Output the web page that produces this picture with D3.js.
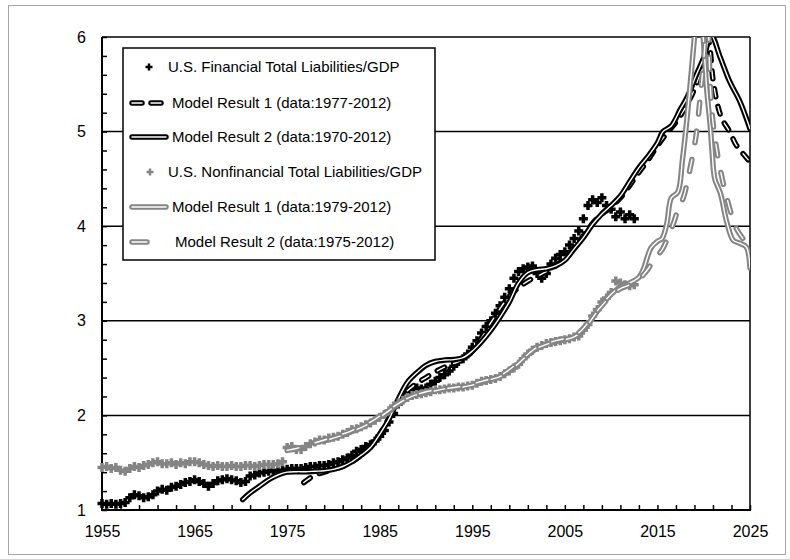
<!DOCTYPE html>
<html><head><meta charset="utf-8">
<script src="https://cdn.jsdelivr.net/npm/d3@7"></script>
<style>
body{margin:0;background:#fff}
svg{display:block}
text{font-family:"Liberation Sans",Arial,sans-serif;fill:#000}
</style>
</head><body><svg id="c" width="790" height="559"></svg>
<script>
// ---------- DATA ----------
const dataYears = d3.range(1955, 2012.75, 0.5); // half-year observations 1955.0 .. 2012.5
const financialRatio = [
1.07,1.06,1.07,1.06,1.07,1.08,1.13,1.16,1.15,1.13,
1.14,1.16,1.20,1.22,1.21,1.24,1.25,1.27,1.29,1.30,
1.32,1.30,1.28,1.25,1.28,1.31,1.32,1.33,1.32,1.31,
1.29,1.30,1.36,1.37,1.39,1.40,1.41,1.42,1.41,1.42,
1.43,1.44,1.44,1.44,1.45,1.46,1.46,1.47,1.47,1.48,
1.50,1.51,1.53,1.55,1.58,1.62,1.64,1.67,1.69,1.73,
1.78,1.84,1.93,2.02,2.12,2.18,2.24,2.27,2.29,2.28,
2.29,2.33,2.36,2.40,2.43,2.47,2.52,2.57,2.60,2.65,
2.72,2.79,2.87,2.94,3.00,3.08,3.16,3.25,3.34,3.45,
3.52,3.55,3.57,3.58,3.50,3.45,3.50,3.60,3.66,3.70,
3.73,3.80,3.87,3.95,4.08,4.22,4.28,4.25,4.30,4.22,
4.18,4.10,4.15,4.08,4.12,4.08];
const nonfinancialRatio = [
1.45,1.46,1.44,1.45,1.42,1.41,1.44,1.46,1.45,1.47,
1.48,1.50,1.51,1.49,1.49,1.50,1.48,1.50,1.49,1.51,
1.51,1.50,1.48,1.47,1.46,1.47,1.46,1.46,1.47,1.46,
1.46,1.47,1.47,1.46,1.47,1.48,1.48,1.48,1.49,1.51,
1.66,1.67,1.64,1.64,1.67,1.70,1.72,1.74,1.74,1.76,
1.77,1.78,1.80,1.82,1.85,1.86,1.88,1.90,1.92,1.95,
1.98,2.01,2.05,2.10,2.13,2.16,2.19,2.21,2.22,2.23,
2.24,2.25,2.27,2.27,2.28,2.29,2.29,2.30,2.30,2.31,
2.32,2.34,2.36,2.37,2.38,2.39,2.41,2.44,2.47,2.50,
2.54,2.60,2.65,2.69,2.72,2.74,2.76,2.77,2.78,2.79,
2.80,2.81,2.83,2.84,2.90,2.96,3.05,3.12,3.20,3.24,
3.30,3.42,3.40,3.38,3.37,3.38];

// model results: [year, value]
const finModel1 = [[1976.8,1.29],[1977.5,1.34],[1978,1.37],[1979,1.40],[1980,1.43],[1981,1.46],[1982,1.51],[1983,1.58],[1984,1.68],[1985,1.80],[1986,1.97],[1987,2.15],[1988,2.26],[1989,2.34],[1990,2.40],[1991,2.46],[1992,2.51],[1993,2.55],[1994,2.59],[1995,2.68],[1996,2.82],[1997,2.98],[1998,3.13],[1999,3.26],[2000,3.35],[2001,3.42],[2002,3.47],[2003,3.52],[2004,3.58],[2005,3.66],[2006,3.77],[2007,3.90],[2008,4.03],[2009,4.13],[2010,4.20],[2011,4.30],[2012,4.43],[2013,4.57],[2014,4.70],[2015,4.85],[2016,4.98],[2017,5.10],[2018,5.25],[2019,5.45],[2019.8,5.68],[2020.5,5.95],[2021,5.55],[2021.5,5.28],[2022,5.13],[2022.8,5.00],[2023.5,4.86],[2024.3,4.76],[2025,4.68]];
const finModel2 = [[1970.2,1.11],[1971,1.18],[1972,1.25],[1973,1.32],[1974,1.37],[1975,1.40],[1976,1.405],[1977,1.405],[1978,1.41],[1979,1.415],[1980,1.43],[1981,1.46],[1982,1.51],[1983,1.58],[1984,1.66],[1985,1.80],[1986,1.96],[1987,2.17],[1988,2.35],[1989,2.45],[1990,2.53],[1991,2.57],[1992,2.585],[1993,2.59],[1994,2.61],[1995,2.68],[1996,2.78],[1997,2.90],[1998,3.04],[1999,3.20],[2000,3.40],[2001,3.51],[2002,3.54],[2003,3.55],[2004,3.58],[2005,3.64],[2006,3.76],[2007,3.88],[2008,4.02],[2009,4.13],[2010,4.22],[2011,4.32],[2012,4.47],[2013,4.62],[2014,4.74],[2015,4.88],[2015.6,5.00],[2016.5,5.06],[2017.5,5.24],[2018.2,5.36],[2019.2,5.60],[2020,5.78],[2020.8,6.02],[2021.8,5.78],[2022.8,5.53],[2023.9,5.32],[2025,5.03]];
const nonfinModel1 = [[1979,1.73],[1980,1.76],[1981,1.79],[1982,1.83],[1983,1.87],[1984,1.92],[1985,1.98],[1986,2.05],[1987,2.12],[1988,2.18],[1989,2.22],[1990,2.24],[1991,2.26],[1992,2.28],[1993,2.29],[1994,2.30],[1995,2.32],[1996,2.35],[1997,2.38],[1998,2.41],[1999,2.47],[2000,2.55],[2001,2.64],[2002,2.71],[2003,2.75],[2004,2.78],[2005,2.80],[2006,2.83],[2007,2.90],[2008,3.03],[2009,3.17],[2010,3.28],[2011,3.36],[2012,3.40],[2013,3.46],[2013.5,3.55],[2014.3,3.77],[2015,3.84],[2015.5,3.87],[2016,4.02],[2016.5,4.30],[2017.2,4.36],[2017.7,4.70],[2018.1,5.05],[2018.5,5.45],[2019,6.0],[2019.5,6.5],[2019.95,6.0],[2020.1,5.78],[2020.35,5.42],[2020.7,5.07],[2020.9,4.80],[2021.2,4.50],[2021.8,4.35],[2022.5,4.04],[2023.2,3.85],[2023.9,3.82],[2024.6,3.78],[2025,3.56]];
const nonfinModel2 = [[1975,1.63],[1976,1.65],[1977,1.68],[1978,1.71],[1979,1.74],[1980,1.77],[1982,1.84],[1984,1.93],[1986,2.06],[1988,2.18],[1990,2.25],[1992,2.28],[1994,2.31],[1996,2.36],[1998,2.42],[2000,2.56],[2002,2.72],[2004,2.79],[2006,2.84],[2007,2.92],[2008,3.05],[2009,3.16],[2010,3.27],[2011,3.34],[2012,3.38],[2013,3.44],[2014,3.55],[2014.6,3.65],[2015.5,3.75],[2016.2,3.90],[2016.8,4.05],[2017.3,4.20],[2017.8,4.30],[2018.4,4.55],[2019,4.85],[2019.3,5.05],[2019.6,5.35],[2020,5.75],[2020.4,6.25],[2020.7,5.50],[2021,5.10],[2021.5,4.75],[2022,4.50],[2022.5,4.30],[2023,4.12],[2023.5,3.98],[2024,3.90],[2024.5,3.84],[2025,3.80]];

const xTickYears = d3.range(1955, 2026, 2);
const xLabelYears = [1955,1965,1975,1985,1995,2005,2015,2025];
const yTicks = d3.range(1, 6.001, 0.2).map(v => +v.toFixed(1));
const yGrid = [2,3,4,5,6];
const legendLabels = [
  "U.S. Financial Total Liabilities/GDP",
  "Model Result 1 (data:1977-2012)",
  "Model Result 2 (data:1970-2012)",
  "U.S. Nonfinancial Total Liabilities/GDP",
  "Model Result 1 (data:1979-2012)",
  "Model Result 2 (data:1975-2012)"];

// ---------- DRAW ----------
const BLACK = "#000", GRAY = "#858585";
const svg = d3.select("#c");
svg.append("rect").attr("x",8.5).attr("y",5.5).attr("width",777).attr("height",549)
  .attr("fill","#fff").attr("stroke","#a6a6a6").attr("stroke-width",1);

const L = 102, R = 750, T = 37, B = 510;
const x = d3.scaleLinear().domain([1955, 2025]).range([L, R]);
const y = d3.scaleLinear().domain([1, 6]).range([B, T]);

svg.append("defs").append("clipPath").attr("id","plot")
  .append("rect").attr("x",L).attr("y",T).attr("width",R-L).attr("height",B-T);

// gridlines
svg.append("g").selectAll("line").data(yGrid).join("line")
  .attr("x1",L).attr("x2",R).attr("y1",d=>y(d)).attr("y2",d=>y(d))
  .attr("stroke","#000").attr("stroke-width",1.5);
// right border
svg.append("line").attr("x1",R).attr("x2",R).attr("y1",T).attr("y2",B).attr("stroke","#000").attr("stroke-width",1.5);

// axes
const xAxis = d3.axisBottom(x).tickValues(xTickYears).tickSize(-5).tickPadding(16)
  .tickFormat(d => xLabelYears.includes(d) ? d : "");
const gx = svg.append("g").attr("transform",`translate(0,${B})`).call(xAxis);
gx.select(".domain").remove();
gx.selectAll(".tick line").attr("stroke","#000").attr("stroke-width",1.5);
gx.selectAll("text").attr("font-size",16).attr("font-family",'"Liberation Sans",Arial,sans-serif');

const yAxis = d3.axisLeft(y).tickValues(yTicks).tickSize(-5).tickPadding(16)
  .tickFormat(d => Number.isInteger(d) ? d : "");
const gy = svg.append("g").attr("transform",`translate(${L},0)`).call(yAxis);
gy.select(".domain").remove();
gy.selectAll(".tick line").attr("stroke","#000").attr("stroke-width",1.5);
gy.selectAll("text").attr("font-size",16).attr("font-family",'"Liberation Sans",Arial,sans-serif');

svg.append("line").attr("x1",L).attr("x2",L).attr("y1",T).attr("y2",B+1).attr("stroke","#000").attr("stroke-width",2);
svg.append("line").attr("x1",L-1).attr("x2",R+1).attr("y1",B).attr("y2",B).attr("stroke","#000").attr("stroke-width",2);

// markers
const plusPath = "M-4.5,0H4.5M0,-4.5V4.5";
function drawMarkers(vals, color){
  svg.append("g").selectAll("path").data(vals.map((v,i)=>[dataYears[i], v])).join("path")
    .attr("d", plusPath)
    .attr("transform", d => `translate(${x(d[0])},${y(d[1])})`)
    .attr("stroke", color).attr("stroke-width", 3.5).attr("fill","none");
}
const line = d3.line().x(d=>x(d[0])).y(d=>y(d[1])).curve(d3.curveCatmullRom.alpha(0.5));
function drawDouble(g, d, color, dash){
  g.append("path").attr("d", d).attr("fill","none").attr("stroke",color).attr("stroke-width",5.5)
    .attr("stroke-linecap","round").attr("stroke-linejoin","round").attr("stroke-dasharray",dash||null);
  g.append("path").attr("d", d).attr("fill","none").attr("stroke","#fff").attr("stroke-width",1.4)
    .attr("stroke-linecap","round").attr("stroke-linejoin","round").attr("stroke-dasharray",dash||null);
}
const DASH_B = "8,10", DASH_G = "12,17";
const plotG = () => svg.append("g").attr("clip-path","url(#plot)");

drawMarkers(financialRatio, BLACK);
drawDouble(plotG(), line(finModel1), BLACK, DASH_B);
drawDouble(plotG(), line(finModel2), BLACK, null);
drawMarkers(nonfinancialRatio, GRAY);
drawDouble(plotG(), line(nonfinModel1), GRAY, null);
drawDouble(plotG(), line(nonfinModel2), GRAY, DASH_G);

// legend
const lg = svg.append("g");
lg.append("rect").attr("x",123).attr("y",48).attr("width",312).attr("height",212)
  .attr("fill","#fff").attr("stroke","#000").attr("stroke-width",1.5);
const rowY = [67,103,137,172,207,242];
const textX = [168,172,172,168,172,175];
legendLabels.forEach((t,i)=>{
  lg.append("text").attr("x",textX[i]).attr("y",rowY[i]).attr("dy","0.35em")
    .attr("font-size",15).text(t);
});
lg.append("path").attr("d","M-3.5,0H3.5M0,-3.5V3.5").attr("transform",`translate(149,${rowY[0]})`).attr("stroke",BLACK).attr("stroke-width",2.5);
lg.append("path").attr("d","M-3.5,0H3.5M0,-3.5V3.5").attr("transform",`translate(150,${rowY[3]})`).attr("stroke",GRAY).attr("stroke-width",2.5);
drawDouble(lg, `M132,${rowY[1]}H166`, BLACK, "10,9");
drawDouble(lg, `M132,${rowY[2]}H166`, BLACK, null);
drawDouble(lg, `M132,${rowY[4]}H166`, GRAY, null);
drawDouble(lg, `M132,${rowY[5]}H147`, GRAY, null);
</script>
</body></html>
